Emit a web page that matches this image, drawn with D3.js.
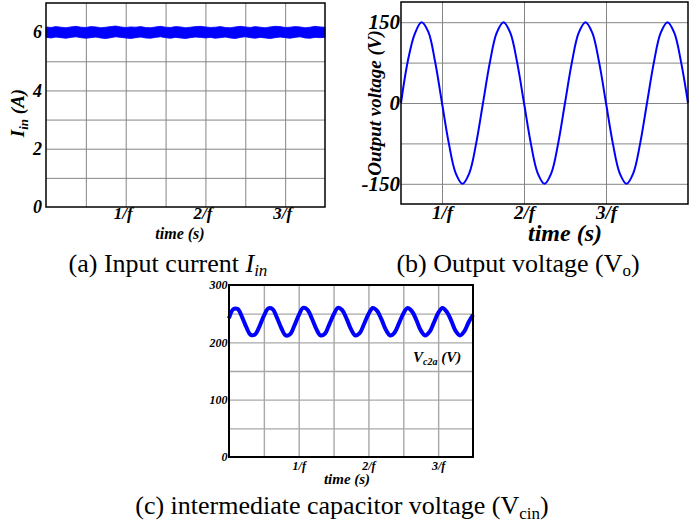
<!DOCTYPE html>
<html>
<head>
<meta charset="utf-8">
<script src="https://cdn.jsdelivr.net/npm/d3@7"></script>
<style>
  body { margin: 0; background: #fff; }
  svg { display: block; }
  text { font-family: "Liberation Serif", "Times New Roman", serif; }
</style>
</head>
<body>
<script>
'use strict'
// DATA (time in units of 1/f)

// (a) input current: upper / lower edge of the ripple band, sampled every 1/16 f
const currentStep = 1 / 16
const currentUpper = [
  6.18, 6.16, 6.19, 6.17, 6.15, 6.18, 6.20, 6.17,
  6.16, 6.19, 6.18, 6.15, 6.17, 6.19, 6.21, 6.18,
  6.16, 6.18, 6.17, 6.19, 6.16, 6.15, 6.18, 6.20,
  6.17, 6.16, 6.19, 6.18, 6.15, 6.17, 6.19, 6.20,
  6.18, 6.16, 6.17, 6.19, 6.16, 6.15, 6.18, 6.20,
  6.18, 6.16, 6.19, 6.17, 6.15, 6.18, 6.20, 6.19,
  6.16, 6.17, 6.19, 6.18, 6.15, 6.17, 6.20, 6.18,
  6.17
]
const currentLower = [
  5.82, 5.80, 5.83, 5.81, 5.79, 5.82, 5.84, 5.81,
  5.79, 5.81, 5.83, 5.80, 5.78, 5.81, 5.84, 5.82,
  5.80, 5.78, 5.81, 5.83, 5.80, 5.79, 5.82, 5.84,
  5.81, 5.79, 5.82, 5.80, 5.78, 5.81, 5.83, 5.82,
  5.80, 5.82, 5.79, 5.81, 5.83, 5.80, 5.78, 5.82,
  5.84, 5.81, 5.79, 5.82, 5.80, 5.78, 5.81, 5.83,
  5.81, 5.79, 5.82, 5.84, 5.80, 5.79, 5.82, 5.81,
  5.82
]

// (b) output voltage, sampled every 1/12 f starting at 0.5/f
const voltageStart = 0.5
const voltageStep = 1 / 12
const outputVoltage = [
  0, 78, 128, 150, 132, 76, 0, -75, -130, -150, -130, -75,
  0, 75, 130, 150, 130, 75, 0, -75, -130, -150, -130, -75,
  0, 75, 130, 150, 130, 75, 0, -75, -130, -150, -130, -75,
  0, 75, 130, 150, 130, 75, 0
]

// (c) intermediate capacitor voltage, sampled every 1/16 f
const capStep = 1 / 16
const capVoltage = [
  242, 258, 258, 244, 226, 213, 214, 228,
  246, 259, 258, 243, 225, 212, 214, 229,
  247, 260, 257, 242, 224, 212, 215, 231,
  248, 260, 256, 241, 223, 212, 216, 232,
  249, 260, 255, 240, 222, 212, 217, 233,
  250, 260, 254, 239, 221, 212, 218, 234,
  251, 260, 253, 238, 220, 212, 219, 235,
  248
]

// ticks
const aYTicks = [0, 2, 4, 6]
const bYTicks = [-150, 0, 150]
const cYTicks = [0, 100, 200, 300]
const timeTicks = [1, 2, 3]
const halfGrid = [0.5, 1, 1.5, 2, 2.5, 3]
const fmtTime = d => d + '/f'
const fmtPlain = d => String(d)

const svg = d3.select('body').append('svg')
  .attr('width', 697)
  .attr('height', 522)

function drawPanel(cfg) {
  const x = d3.scaleLinear(cfg.xDomain, cfg.xRange)
  const y = d3.scaleLinear(cfg.yDomain, cfg.yRange)
  const w = cfg.xRange[1] - cfg.xRange[0]
  const h = cfg.yRange[0] - cfg.yRange[1]
  const g = svg.append('g')

  // grid
  g.append('g')
    .attr('transform', `translate(0,${cfg.yRange[0]})`)
    .call(d3.axisBottom(x).tickValues(cfg.xGrid).tickSize(-h).tickFormat(''))
    .call(s => s.select('.domain').remove())
    .selectAll('line')
    .attr('stroke', cfg.gridColor)
    .attr('stroke-width', cfg.gridWidth)

  g.append('g')
    .attr('transform', `translate(${cfg.xRange[0]},0)`)
    .call(d3.axisLeft(y).tickValues(cfg.yGrid).tickSize(-w).tickFormat(''))
    .call(s => s.select('.domain').remove())
    .selectAll('line')
    .attr('stroke', cfg.gridColor)
    .attr('stroke-width', cfg.gridWidth)

  // data
  cfg.draw(g, x, y)

  // frame
  g.append('rect')
    .attr('x', cfg.xRange[0])
    .attr('y', cfg.yRange[1])
    .attr('width', w)
    .attr('height', h)
    .attr('fill', 'none')
    .attr('stroke', '#000')
    .attr('stroke-width', cfg.frameWidth)

  // tick labels
  const yAx = g.append('g')
    .attr('transform', `translate(${cfg.xRange[0]},0)`)
    .call(d3.axisLeft(y).tickValues(cfg.yTicks).tickFormat(fmtPlain).tickSize(0).tickPadding(cfg.yPad))
    .attr('font-family', null)
  yAx.select('.domain').remove()
  yAx.selectAll('text')
    .style('font-size', cfg.yFont + 'px')
    .style('font-weight', 'bold')
    .style('font-style', 'italic')
    .attr('fill', '#000')

  const xAx = g.append('g')
    .attr('transform', `translate(0,${cfg.yRange[0]})`)
    .call(d3.axisBottom(x).tickValues(timeTicks).tickFormat(fmtTime).tickSize(0).tickPadding(cfg.xPad))
    .attr('font-family', null)
  xAx.select('.domain').remove()
  xAx.selectAll('text')
    .attr('dx', cfg.xShift || 0)
    .style('font-size', cfg.xFont + 'px')
    .style('font-weight', 'bold')
    .style('font-style', 'italic')
    .attr('fill', '#000')

  // x title
  g.append('text')
    .attr('x', cfg.timePos[0])
    .attr('y', cfg.timePos[1])
    .attr('text-anchor', 'middle')
    .style('font-size', cfg.timeFont + 'px')
    .style('font-weight', 'bold')
    .style('font-style', 'italic')
    .text('time (s)')

  return g
}

// (a) INPUT CURRENT
const gA = drawPanel({
  xDomain: [0, 3.5], xRange: [46, 325],
  yDomain: [0, 7], yRange: [207, 3],
  xGrid: halfGrid, yGrid: [1, 2, 3, 4, 5, 6],
  gridColor: '#858585', gridWidth: 1, frameWidth: 1.5,
  yTicks: aYTicks, yPad: 4, yFont: 18,
  xPad: 0, xFont: 17, xShift: -3,
  timePos: [180, 239], timeFont: 16,
  draw: (g, x, y) => {
    const band = currentUpper.map((u, i) => ({ t: i * currentStep, hi: u, lo: currentLower[i] }))
    g.append('path')
      .datum(band)
      .attr('fill', '#0000ff')
      .attr('stroke', '#0000ff')
      .attr('stroke-width', 0.8)
      .attr('d', d3.area().x(d => x(d.t)).y0(d => y(d.lo)).y1(d => y(d.hi)))
  }
})
gA.append('text')
  .attr('transform', 'translate(24,113) rotate(-90)')
  .attr('text-anchor', 'middle')
  .style('font-size', '19px')
  .style('font-weight', 'bold')
  .style('font-style', 'italic')
  .call(t => {
    t.append('tspan').text('I')
    t.append('tspan').text('in').style('font-size', '13px').attr('dy', 4)
    t.append('tspan').text(' (A)').attr('dy', -4)
  })

// (b) OUTPUT VOLTAGE
const gB = drawPanel({
  xDomain: [0.5, 4], xRange: [401, 688],
  yDomain: [-187.5, 187.5], yRange: [204, 2],
  xGrid: timeTicks, yGrid: [-150, -75, 0, 75, 150],
  gridColor: '#858585', gridWidth: 1, frameWidth: 1.5,
  yTicks: bYTicks, yPad: 1, yFont: 21,
  xPad: 1, xFont: 19,
  timePos: [565, 241], timeFont: 24,
  draw: (g, x, y) => {
    g.append('path')
      .datum(outputVoltage)
      .attr('fill', 'none')
      .attr('stroke', '#0000ff')
      .attr('stroke-width', 2)
      .attr('d', d3.line()
        .x((d, i) => x(voltageStart + i * voltageStep))
        .y(d => y(d))
        .curve(d3.curveCatmullRom))
  }
})
gB.append('text')
  .attr('transform', 'translate(381,103) rotate(-90)')
  .attr('text-anchor', 'middle')
  .style('font-size', '19px')
  .style('font-weight', 'bold')
  .style('font-style', 'italic')
  .text('Output voltage (V)')

// (c) INTERMEDIATE CAPACITOR VOLTAGE
const gC = drawPanel({
  xDomain: [0, 3.5], xRange: [229, 473],
  yDomain: [0, 300], yRange: [457, 285],
  xGrid: halfGrid, yGrid: [50, 100, 150, 200, 250],
  gridColor: '#a8a8a8', gridWidth: 1.4, frameWidth: 2,
  yTicks: cYTicks, yPad: 1.5, yFont: 12,
  xPad: 4, xFont: 12,
  timePos: [347, 484], timeFont: 15,
  draw: (g, x, y) => {
    g.append('path')
      .datum(capVoltage)
      .attr('fill', 'none')
      .attr('stroke', '#0000ff')
      .attr('stroke-width', 4)
      .attr('d', d3.line()
        .x((d, i) => x(i * capStep))
        .y(d => y(d))
        .curve(d3.curveCatmullRom))
  }
})
gC.append('text')
  .attr('x', 413)
  .attr('y', 362)
  .style('font-size', '15px')
  .style('font-weight', 'bold')
  .style('font-style', 'italic')
  .call(t => {
    t.append('tspan').text('V')
    t.append('tspan').text('c2a').style('font-size', '10px').attr('dy', 3)
    t.append('tspan').text(' (V)').attr('dy', -3)
  })

// CAPTIONS
svg.append('text')
  .attr('x', 168).attr('y', 272)
  .attr('text-anchor', 'middle')
  .style('font-size', '26px')
  .call(t => {
    t.append('tspan').text('(a) Input current ')
    t.append('tspan').text('I').style('font-style', 'italic')
    t.append('tspan').text('in').style('font-style', 'italic').style('font-size', '17px').attr('dy', 4)
  })

svg.append('text')
  .attr('x', 518).attr('y', 272)
  .attr('text-anchor', 'middle')
  .style('font-size', '26px')
  .call(t => {
    t.append('tspan').text('(b) Output voltage (V')
    t.append('tspan').text('o').style('font-size', '17px').attr('dy', 4)
    t.append('tspan').text(')').attr('dy', -4)
  })

svg.append('text')
  .attr('x', 342).attr('y', 514)
  .attr('text-anchor', 'middle')
  .style('font-size', '26px')
  .call(t => {
    t.append('tspan').text('(c) intermediate capacitor voltage (V')
    t.append('tspan').text('cin').style('font-size', '17px').attr('dy', 5)
    t.append('tspan').text(')').attr('dy', -5)
  })
</script>
</body>
</html>
